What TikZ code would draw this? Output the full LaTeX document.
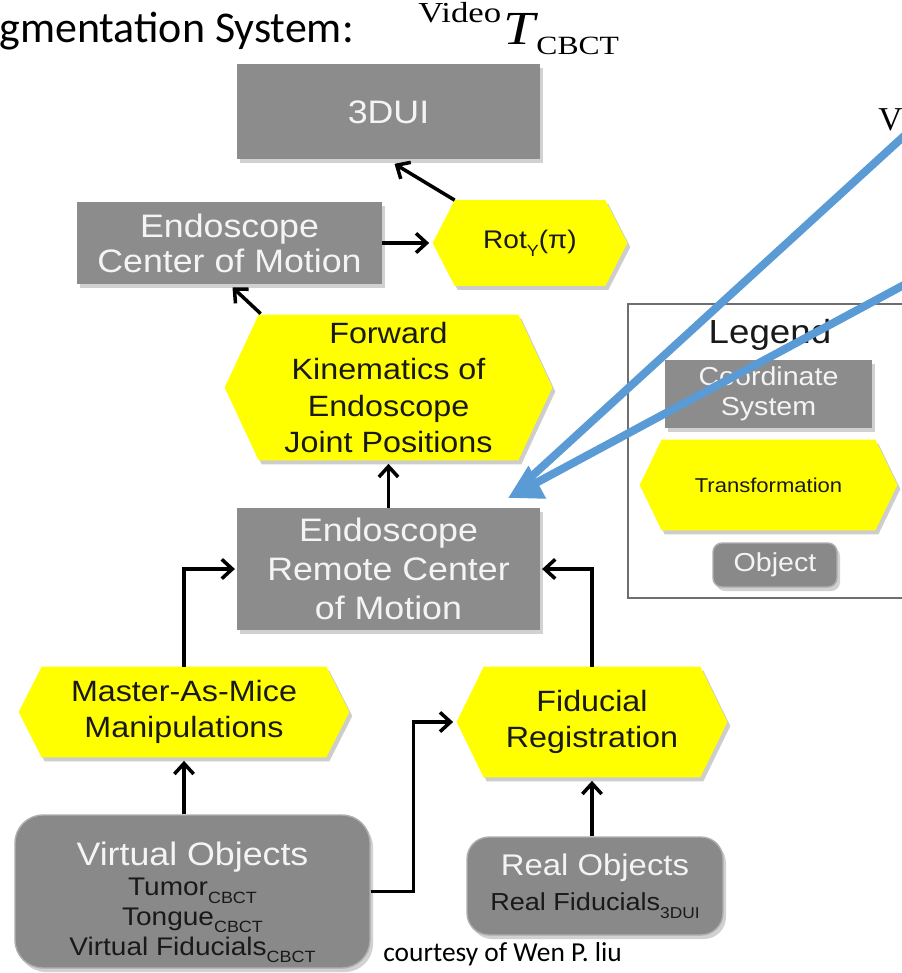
\documentclass[tikz,border=0pt]{standalone}
\usepackage{fontspec}
\usetikzlibrary{arrows.meta,calc,shadows}

\newfontfamily\sansA[FakeStretch=1.1]{Liberation Sans}
\newfontfamily\calfont{Carlito}
\newfontfamily\serfont{Liberation Serif}
\newfontfamily\wideserif[FakeStretch=1.2]{Liberation Serif}

\definecolor{csgray}{RGB}{140,140,140}
\definecolor{objgray}{RGB}{137,137,137}
\definecolor{objedge}{RGB}{175,175,175}
\definecolor{hexyellow}{RGB}{255,255,0}
\definecolor{bluearrow}{RGB}{91,155,213}
\definecolor{lighttext}{RGB}{244,244,244}
\definecolor{darktext}{RGB}{25,25,25}
\definecolor{shadowgray}{RGB}{205,205,205}
\definecolor{framegray}{RGB}{110,110,110}

\pgfdeclarelayer{bg}
\pgfsetlayers{bg,main}

% lowered, reduced index text
\newcommand\lowtxt[1]{\raisebox{-0.3em}{\scalebox{0.64}{#1}}}

\begin{document}
\begin{tikzpicture}[x=0.02cm,y=-0.02cm,
  sized/.style 2 args={minimum width=#1*0.02cm, minimum height=#2*0.02cm},
  coordbox/.style={fill=csgray, text=lighttext, inner sep=0pt, align=center,
    drop shadow={shadow xshift=0.06cm, shadow yshift=-0.08cm, fill=black, opacity=0.18}},
  objbox/.style={fill=objgray, draw=objedge, line width=0.8pt, rounded corners=#1*0.02cm,
    inner sep=0pt, align=center,
    drop shadow={shadow xshift=0.06cm, shadow yshift=-0.08cm, fill=black, opacity=0.18}},
  hexnode/.style={inner sep=0pt, align=center, text=darktext},
  arr/.style={draw=black, line width=2pt, -{Straight Barb[length=6pt,width=11pt]}},
  blueline/.style={draw=bluearrow, line width=0.16cm},
  bigfont/.style={font=\sansA\fontsize{18.5}{#1}\selectfont},
  midfont/.style={font=\sansA\fontsize{16.7}{20.5}\selectfont},
]
\useasboundingbox (0,0) rectangle (902,973);
\begin{scope}
\clip (0,0) rectangle (902,973);

% heading text
\node[anchor=base west, inner sep=0pt, font=\calfont\fontsize{25}{29}\selectfont] (title) at (-1,43) {gmentation System:};
\node[anchor=base west, inner sep=0pt, font=\wideserif\fontsize{16.5}{20}\selectfont] (vt) at (418,45)
  {\raisebox{13pt}{Video}\kern1pt{\fontsize{27}{30}\selectfont\itshape T}\kern1pt\raisebox{-5.5pt}{\fontsize{15}{18}\selectfont CBCT}};
\node[anchor=base west, inner sep=0pt, font=\serfont\fontsize{19}{22}\selectfont] (vcut) at (878,131) {V};

% coordinate systems
\node[coordbox, sized={303}{95}, bigfont=20] (ui) at (388.5,112) {3DUI};
\node[coordbox, sized={305}{82}, bigfont=20] (ecom) at (229.5,243) {Endoscope\\Center of Motion};
\node[coordbox, sized={303}{122}, bigfont=22] (rcm) at (388.5,569) {Endoscope\\Remote Center\\of Motion};

% transformations
\node[hexnode, sized={194}{85}, font=\sansA\fontsize{14.5}{17}\selectfont] (rot) at (530,243) {Rot\lowtxt{Y}(π)};
\node[hexnode, sized={327}{145}, midfont] (fk) at (388.5,387.5) {Forward\\Kinematics of\\Endoscope\\Joint Positions};
\node[hexnode, sized={330}{90}, midfont] (mam) at (184,712) {Master-As-Mice\\Manipulations};
\node[hexnode, sized={270}{110}, midfont] (fid) at (592,722) {Fiducial\\Registration};

% objects
\node[objbox=28, sized={355}{153}] (vobj) at (192.5,891.5) {};
\node[inner sep=0pt, align=center, text=darktext, font=\sansA\fontsize{14.5}{17}\selectfont] (vobjtext) at ($(vobj.center)+(0,11)$)
  {\textcolor{lighttext}{\fontsize{18.5}{17}\selectfont Virtual Objects}\\Tumor\lowtxt{CBCT}\\Tongue\lowtxt{CBCT}\\Virtual Fiducials\lowtxt{CBCT}};
\node[objbox=22, sized={256}{98}, text=darktext, font=\sansA\fontsize{14}{20}\selectfont] (robj) at (595,886)
  {\textcolor{lighttext}{\fontsize{17}{20}\selectfont Real Objects}\\Real Fiducials\lowtxt{3DUI}};

% credit line
\node[anchor=base west, inner sep=0pt, font=\calfont\fontsize{15.6}{18}\selectfont] (credit) at (383,961) {courtesy of Wen P. liu};

% legend
\node[draw=framegray, line width=1.2pt, anchor=north west, sized={300}{294}] (legframe) at (627,303) {};
\node[inner sep=0pt, text=darktext, font=\sansA\fontsize{19}{20}\selectfont] (legtitle) at (770,335) {Legend};
\node[coordbox, sized={207}{68}, font=\sansA\fontsize{14.8}{17}\selectfont] (lcs) at (768.5,394) {Coordinate\\System};
\node[hexnode, sized={257}{90}, font=\sansA\fontsize{11.4}{14}\selectfont] (ltr) at (768.5,485) {Transformation};
\node[objbox=9, sized={124}{44}, text=lighttext, font=\sansA\fontsize{14.8}{17}\selectfont] (lobj) at (775,565) {Object};

% hexagon bodies behind the transformation labels
\begin{pgfonlayer}{bg}
\foreach \n/\d in {rot/22,fk/34,mam/23,fid/27,ltr/22}{
  \fill[shadowgray, transform canvas={shift={(3,4)}}]
    (\n.west) -- ($(\n.north west)+(\d,0)$) -- ($(\n.north east)+(-\d,0)$) -- (\n.east)
    -- ($(\n.south east)+(-\d,0)$) -- ($(\n.south west)+(\d,0)$) -- cycle;
  \fill[hexyellow]
    (\n.west) -- ($(\n.north west)+(\d,0)$) -- ($(\n.north east)+(-\d,0)$) -- (\n.east)
    -- ($(\n.south east)+(-\d,0)$) -- ($(\n.south west)+(\d,0)$) -- cycle;
}
\end{pgfonlayer}

% connectors
\draw[arr] ($(rot.north west)+(22,0)$) -- ($(ui.south)+(6,4)$);
\draw[arr, shorten >=2pt] (ecom.east) -- (rot.west);
\draw[arr] ($(fk.north west)+(36,-1)$) -- ($(ecom.south)+(3,3)$);
\draw[arr, shorten >=2pt] (rcm.north) -- (fk.south);
\draw[arr, shorten >=1pt] (mam.north) |- (rcm.west);
\draw[arr, shorten >=1pt] (fid.north) |- (rcm.east);
\draw[arr, shorten >=2pt] (vobj.north -| mam.south) -- (mam.south);
\draw[arr, shorten >=2pt] (vobj.east) -- ++(43,0) |- (fid.west);
\draw[arr, shorten >=2pt] (robj.north -| fid.south) -- (fid.south);

% blue pointer lines
\coordinate (bl1) at (915,126);
\coordinate (bl2) at (915,279);
\coordinate (btip) at (508,498);
\draw[blueline] (bl1) -- ($(btip)!14pt!(bl1)$);
\draw[blueline, -{Triangle[length=19pt,width=20pt]}] (bl2) -- (btip);
\end{scope}
\end{tikzpicture}
\end{document}
